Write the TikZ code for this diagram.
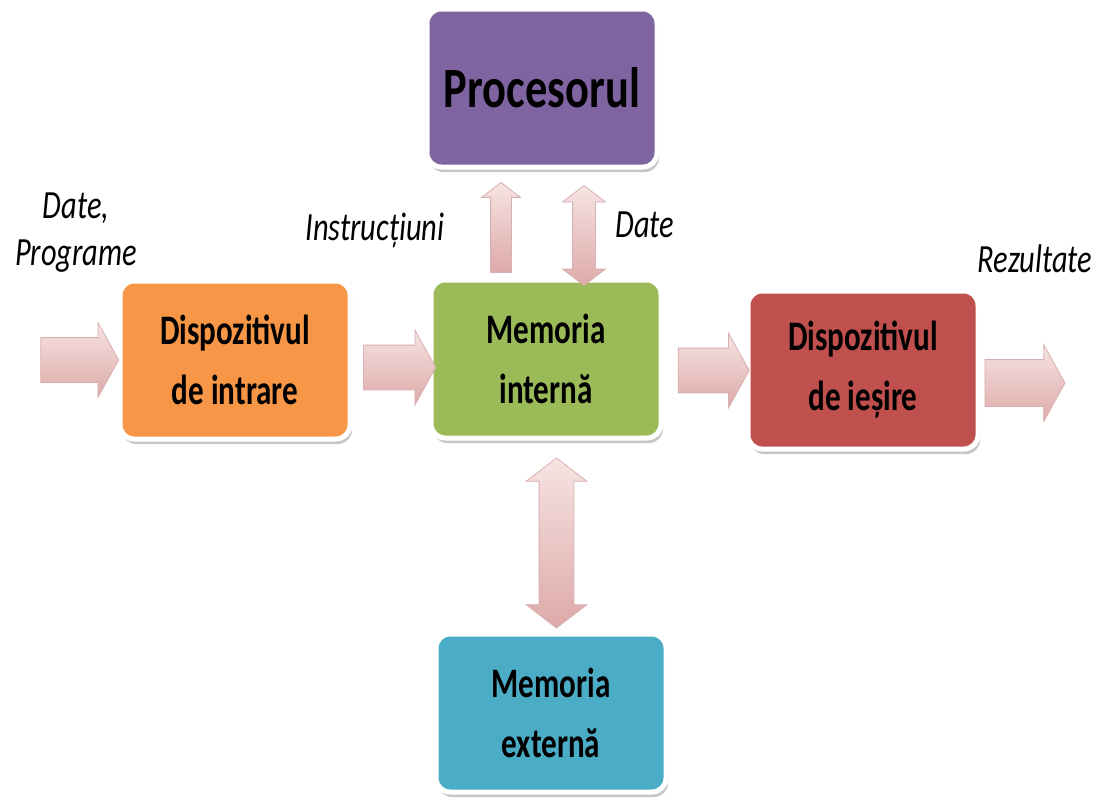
\documentclass[tikz,border=0pt]{standalone}
\usepackage{fontspec}
\setmainfont{Carlito}[FakeStretch=0.74]
\newfontfamily\labelfont{Carlito}[FakeStretch=0.76]
\newfontfamily\procfont{Carlito}[FakeStretch=0.78]
\usetikzlibrary{shapes.arrows,shadows,calc}

\definecolor{procviolet}{HTML}{8064A2}
\definecolor{inorange}{HTML}{F79646}
\definecolor{memgreen}{HTML}{9BBB59}
\definecolor{outred}{HTML}{C0504D}
\definecolor{extaqua}{HTML}{4BACC6}
\definecolor{arrowlight}{HTML}{F6E4E3}
\definecolor{arrowdark}{HTML}{DDA9A8}
\definecolor{arrowedge}{HTML}{D8B0AF}

\tikzset{
  box/.style={rectangle, rounded corners=14pt, draw=white, line width=5pt,
    minimum width=230pt, minimum height=158pt, align=center,
    font=\bfseries\fontsize{42}{60}\selectfont,
    drop shadow={shadow xshift=2pt, shadow yshift=-5pt, fill=black!50, opacity=.45}},
  flowarrow/.style={single arrow, single arrow head extend=15pt,
    single arrow tip angle=122, inner sep=22pt, minimum width=0pt,
    draw=arrowedge, line width=.8pt, top color=arrowlight, bottom color=arrowdark},
  thinarrow/.style={flowarrow, inner sep=10pt, single arrow head extend=9pt,
    single arrow tip angle=105, rotate=90},
  twoway/.style={double arrow, double arrow head extend=#1, double arrow tip angle=105,
    minimum width=0pt, draw=arrowedge, line width=.8pt,
    top color=arrowlight, bottom color=arrowdark, rotate=90},
  lbl/.style={font=\labelfont\itshape\fontsize{40}{47}\selectfont, anchor=base, align=center}
}

\begin{document}
\begin{tikzpicture}[x=1pt,y=-1pt]
\useasboundingbox (0,0) rectangle (1100,803);

% the five units
\node[box, fill=procviolet, font=\procfont\bfseries\fontsize{57}{60}\selectfont] (proc) at (542,88) {Procesorul};
\node[box, fill=inorange] (in) at (235,360) {Dispozitivul\\de intrare};
\node[box, fill=memgreen] (mi) at (546,359) {Memoria\\intern\u a};
\node[box, fill=outred] (out) at (863,370) {Dispozitivul\\de ieșire};
\node[box, fill=extaqua] (me) at (551,713) {Memoria\\extern\u a};

% flow arrows
\node[flowarrow, minimum height=78pt] (a1) at ($(in.west)+(-44,0)$) {};
\node[flowarrow, minimum height=72pt] (a2) at ($(in.east)!.5!(mi.west)+(3,8)$) {};
\node[flowarrow, minimum height=71pt] (a3) at ($(mi.east)!.5!(out.west)+(3,6)$) {};
\node[flowarrow, minimum height=80pt, inner sep=23pt] (a4) at ($(out.east)+(38,13)$) {};
\node[thinarrow, minimum height=90pt] (a5) at ($(proc.south)!.5!(mi.north)+(-43,8)$) {};
\node[twoway=10pt, inner sep=11pt, minimum height=100pt] (a6) at ($(proc.south)!.5!(mi.north)+(40,12)$) {};
\node[twoway=13pt, inner sep=17pt, minimum height=170pt] (a7) at ($(mi.south)!.5!(me.north)+(8,7)$) {};

% labels
\node[lbl] (ldate) at (76,265) {Date,\\Programe};
\node[lbl] (linstr) at (375,240) {Instrucțiuni};
\node[lbl] (ldata) at (645,237) {Date};
\node[lbl] (lrez) at (1035,272) {Rezultate};
\end{tikzpicture}
\end{document}
